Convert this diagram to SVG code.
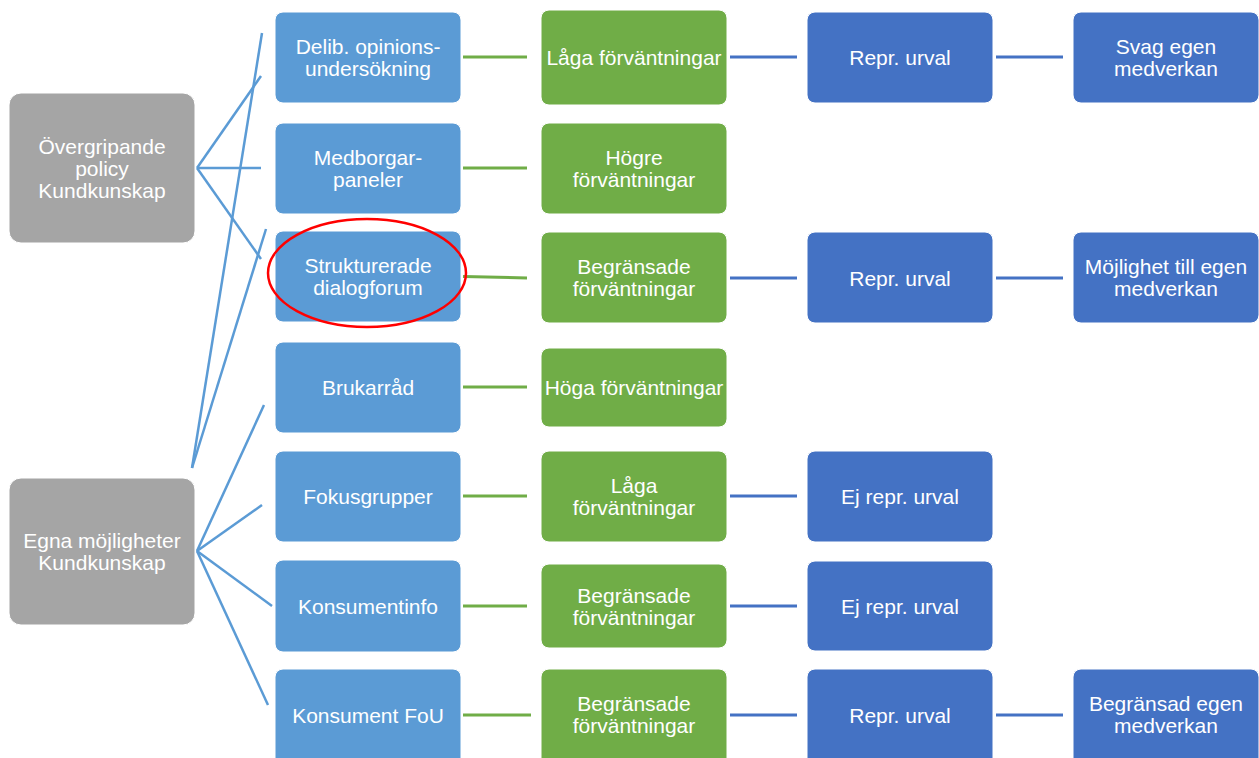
<svg xmlns="http://www.w3.org/2000/svg" width="1259" height="758" viewBox="0 0 1259 758">
<style>
.gray{fill:#A5A5A5;stroke:#ffffff;stroke-width:1}
.lb{fill:#5B9BD5;stroke:#ffffff;stroke-width:1}
.gr{fill:#70AD47;stroke:#ffffff;stroke-width:1}
.db{fill:#4472C4;stroke:#ffffff;stroke-width:1}
text{font-family:"Liberation Sans",Arial,sans-serif;font-size:21px;fill:#ffffff;text-anchor:middle}
.cl{stroke:#5B9BD5;stroke-width:2.5;fill:none}
.cg{stroke:#70AD47;stroke-width:3;fill:none}
.cd{stroke:#4472C4;stroke-width:3;fill:none}
</style>
<rect width="1259" height="758" fill="#ffffff"/>
<g id="connectors">
<line class="cl" x1="197" y1="168" x2="261" y2="76"/>
<line class="cl" x1="197" y1="168" x2="261" y2="168"/>
<line class="cl" x1="197" y1="168" x2="261" y2="259"/>
<line class="cl" x1="192" y1="468" x2="262" y2="33"/>
<line class="cl" x1="192" y1="468" x2="266" y2="229"/>
<line class="cl" x1="197" y1="551" x2="264" y2="405"/>
<line class="cl" x1="197" y1="551" x2="262" y2="505"/>
<line class="cl" x1="197" y1="551" x2="272" y2="606"/>
<line class="cl" x1="197" y1="551" x2="268" y2="705"/>
<line class="cg" x1="463" y1="57" x2="527" y2="57"/>
<line class="cg" x1="463" y1="168" x2="527" y2="168"/>
<line class="cg" x1="463" y1="276.5" x2="527" y2="278"/>
<line class="cg" x1="463" y1="387" x2="527" y2="387"/>
<line class="cg" x1="463" y1="496" x2="527" y2="496"/>
<line class="cg" x1="463" y1="606" x2="527" y2="606"/>
<line class="cg" x1="463" y1="715" x2="531" y2="715"/>
<line class="cd" x1="730" y1="57" x2="797" y2="57"/>
<line class="cd" x1="996" y1="57" x2="1063" y2="57"/>
<line class="cd" x1="730" y1="278" x2="797" y2="278"/>
<line class="cd" x1="996" y1="278" x2="1063" y2="278"/>
<line class="cd" x1="730" y1="496" x2="797" y2="496"/>
<line class="cd" x1="730" y1="606" x2="797" y2="606"/>
<line class="cd" x1="730" y1="715" x2="797" y2="715"/>
<line class="cd" x1="996" y1="715" x2="1063" y2="715"/>
</g>
<g id="n-overgripande"><rect class="gray" x="9" y="93" width="186" height="150" rx="12"/><text x="102" y="153.5">Övergripande</text><text x="102" y="175.5">policy</text><text x="102" y="197.5">Kundkunskap</text></g>
<g id="n-egna"><rect class="gray" x="9" y="478" width="186" height="147" rx="12"/><text x="102" y="547.5">Egna möjligheter</text><text x="102" y="569.5">Kundkunskap</text></g>
<g id="n-delib"><rect class="lb" x="275" y="12" width="186" height="91" rx="8"/><text x="368" y="54">Delib. opinions-</text><text x="368" y="76">undersökning</text></g>
<g id="n-medborgar"><rect class="lb" x="275" y="123" width="186" height="91" rx="8"/><text x="368" y="165">Medborgar-</text><text x="368" y="187">paneler</text></g>
<g id="n-struktur"><rect class="lb" x="275" y="231" width="186" height="91" rx="8"/><text x="368" y="273">Strukturerade</text><text x="368" y="295">dialogforum</text></g>
<g id="n-brukar"><rect class="lb" x="275" y="342" width="186" height="91" rx="8"/><text x="368" y="395">Brukarråd</text></g>
<g id="n-fokus"><rect class="lb" x="275" y="451" width="186" height="91" rx="8"/><text x="368" y="504">Fokusgrupper</text></g>
<g id="n-konsinfo"><rect class="lb" x="275" y="560" width="186" height="92" rx="8"/><text x="368" y="613.5">Konsumentinfo</text></g>
<g id="n-konsfou"><rect class="lb" x="275" y="669" width="186" height="100" rx="8"/><text x="368" y="722.5">Konsument FoU</text></g>
<g id="g1"><rect class="gr" x="541" y="10" width="186" height="95" rx="8"/><text x="634" y="65">Låga förväntningar</text></g>
<g id="g2"><rect class="gr" x="541" y="123" width="186" height="91" rx="8"/><text x="634" y="165">Högre</text><text x="634" y="187">förväntningar</text></g>
<g id="g3"><rect class="gr" x="541" y="232" width="186" height="91" rx="8"/><text x="634" y="274">Begränsade</text><text x="634" y="296">förväntningar</text></g>
<g id="g4"><rect class="gr" x="541" y="348" width="186" height="79" rx="8"/><text x="634" y="395">Höga förväntningar</text></g>
<g id="g5"><rect class="gr" x="541" y="451" width="186" height="91" rx="8"/><text x="634" y="493">Låga</text><text x="634" y="515">förväntningar</text></g>
<g id="g6"><rect class="gr" x="541" y="564" width="186" height="84" rx="8"/><text x="634" y="602.5">Begränsade</text><text x="634" y="624.5">förväntningar</text></g>
<g id="g7"><rect class="gr" x="541" y="669" width="186" height="100" rx="8"/><text x="634" y="711">Begränsade</text><text x="634" y="733">förväntningar</text></g>
<g id="d1"><rect class="db" x="807" y="12" width="186" height="91" rx="8"/><text x="900" y="65">Repr. urval</text></g>
<g id="d3"><rect class="db" x="807" y="232" width="186" height="91" rx="8"/><text x="900" y="285.5">Repr. urval</text></g>
<g id="d5"><rect class="db" x="807" y="451" width="186" height="91" rx="8"/><text x="900" y="504">Ej repr. urval</text></g>
<g id="d6"><rect class="db" x="807" y="561" width="186" height="90" rx="8"/><text x="900" y="613.5">Ej repr. urval</text></g>
<g id="d7"><rect class="db" x="807" y="669" width="186" height="100" rx="8"/><text x="900" y="722.5">Repr. urval</text></g>
<g id="f1"><rect class="db" x="1073" y="12" width="186" height="91" rx="8"/><text x="1166" y="54">Svag egen</text><text x="1166" y="76">medverkan</text></g>
<g id="f3"><rect class="db" x="1073" y="232" width="186" height="91" rx="8"/><text x="1166" y="274">Möjlighet till egen</text><text x="1166" y="296">medverkan</text></g>
<g id="f7"><rect class="db" x="1073" y="669" width="186" height="100" rx="8"/><text x="1166" y="711">Begränsad egen</text><text x="1166" y="733">medverkan</text></g>
<ellipse id="highlight" cx="367" cy="273" rx="99" ry="54" fill="none" stroke="#FF0000" stroke-width="2.5"/>
</svg>
